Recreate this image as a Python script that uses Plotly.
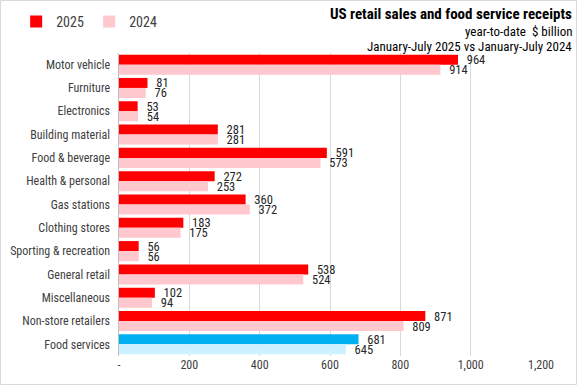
import plotly.graph_objects as go

categories = ["Motor vehicle", "Furniture", "Electronics", "Building material", "Food & beverage",
              "Health & personal", "Gas stations", "Clothing stores", "Sporting & recreation",
              "General retail", "Miscellaneous", "Non-store retailers", "Food services"]
values_2025 = [964, 81, 53, 281, 591, 272, 360, 183, 56, 538, 102, 871, 681]
values_2024 = [914, 76, 54, 281, 573, 253, 372, 175, 56, 524, 94, 809, 645]
tick_vals = [0, 200, 400, 600, 800, 1000, 1200]
tick_text = ["-", "200", "400", "600", "800", "1,000", "1,200"]

FONT = "Liberation Sans Narrow, Roboto Condensed, Roboto, sans-serif"

c25 = ["#00B0F0" if c == "Food services" else "#FF0000" for c in categories]
c24 = ["#CCF2FF" if c == "Food services" else "#FFC7CE" for c in categories]

fig = go.Figure()
fig.add_trace(go.Bar(name="2025", y=categories, x=values_2025, orientation="h",
                     marker=dict(color=c25, line=dict(width=0)),
                     text=["  " + str(v) for v in values_2025], textposition="outside",
                     constraintext="none",
                     textfont=dict(size=12.5, color="#262626"), cliponaxis=False))
fig.add_trace(go.Bar(name="2024", y=categories, x=values_2024, orientation="h",
                     marker=dict(color=c24, line=dict(width=0)),
                     text=["  " + str(v) for v in values_2024], textposition="outside",
                     constraintext="none",
                     textfont=dict(size=12.5, color="#262626"), cliponaxis=False))

W, H = 577, 385
ml, mr, mt, mb = 119, 36, 53, 29
pw, ph = W - ml - mr, H - mt - mb

fig.update_layout(
    width=W, height=H,
    margin=dict(l=ml, r=mr, t=mt, b=mb),
    barmode="group", bargap=0.14, bargroupgap=0.0,
    paper_bgcolor="white", plot_bgcolor="white",
    font=dict(family=FONT, size=12, color="#404040"),
    showlegend=True,
    legend=dict(orientation="h", xref="container", yref="container",
                x=0.028, y=1 - 22 / H, xanchor="left", yanchor="middle",
                font=dict(size=14, color="#404040"), itemwidth=30, traceorder="normal",
                entrywidth=28, bgcolor="rgba(0,0,0,0)"),
    xaxis=dict(range=[0, 1200], tickvals=tick_vals, ticktext=tick_text, showgrid=True,
               gridcolor="#D9D9D9", gridwidth=1, zeroline=False, showline=False,
               tickfont=dict(size=12, color="#404040"), ticks="", automargin=False),
    yaxis=dict(autorange="reversed", showline=True, linecolor="#BFBFBF", linewidth=1,
               ticks="", tickfont=dict(size=12, color="#404040"), ticksuffix="  ",
               automargin=False),
    annotations=[
        dict(text="<b>US retail sales and food service receipts</b>", xref="paper", yref="paper",
             x=(W - 3 - ml) / pw, y=1 + (mt - 14) / ph, xanchor="right", yanchor="middle",
             showarrow=False, font=dict(size=15, color="#000000", family=FONT)),
        dict(text="year-to-date  $ billion", xref="paper", yref="paper",
             x=(W - 3 - ml) / pw, y=1 + (mt - 32) / ph, xanchor="right", yanchor="middle",
             showarrow=False, font=dict(size=13, color="#000000", family=FONT)),
        dict(text="January-July 2025 vs January-July 2024", xref="paper", yref="paper",
             x=(W - 3 - ml) / pw, y=1 + (mt - 46) / ph, xanchor="right", yanchor="middle",
             showarrow=False, font=dict(size=13, color="#000000", family=FONT)),
    ],
    shapes=[dict(type="rect", xref="paper", yref="paper",
                 x0=-(ml - 0.5) / pw, x1=1 + (mr - 0.5) / pw,
                 y0=-(mb - 0.5) / ph, y1=1 + (mt - 0.5) / ph,
                 line=dict(color="#D9D9D9", width=1), layer="below")],
)

fig.write_html("out.html", config={"displayModeBar": False},
               post_script="document.body.style.margin='0';document.body.style.padding='0';"
                           "document.documentElement.style.overflow='hidden';")
